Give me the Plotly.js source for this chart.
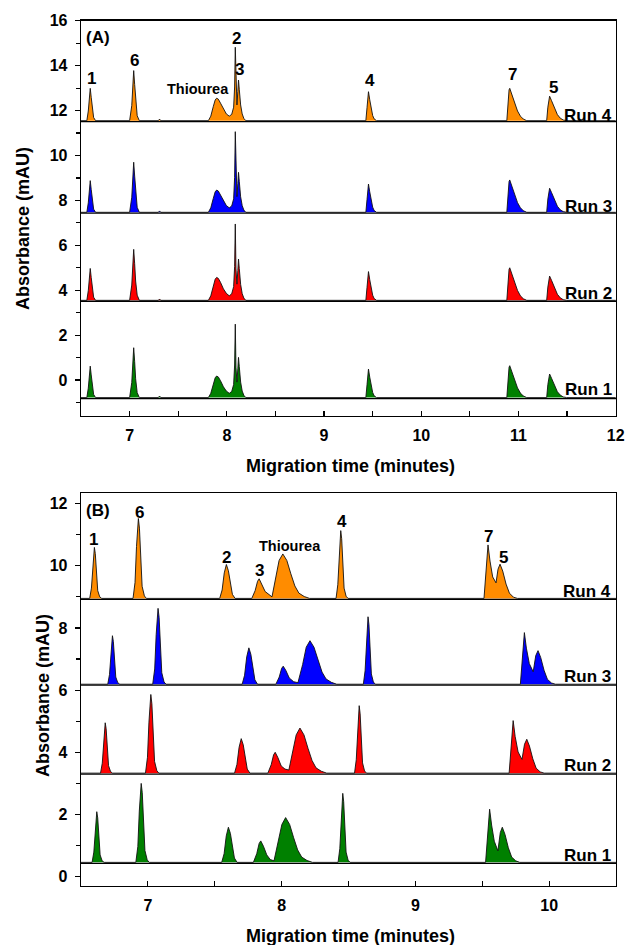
<!DOCTYPE html>
<html><head><meta charset="utf-8">
<script src="https://cdn.plot.ly/plotly-3.0.1.min.js"></script>
<style>html,body{margin:0;padding:0;background:#fff}#chart{width:626px;height:945px}</style>
</head><body><div id="chart"></div>
<script>
// ---------------- Panel A (shared migration-time grid, minutes) ----------------
const timeA = [6.50, 6.56, 6.575, 6.587, 6.595, 6.605, 6.615, 6.63, 6.65,
  7.00, 7.022, 7.034, 7.042, 7.052, 7.062, 7.078, 7.10,
  7.295, 7.308, 7.32,
  7.81, 7.835, 7.86, 7.88, 7.895, 7.912, 7.935, 7.965, 7.995, 8.025, 8.05, 8.07, 8.08, 8.087, 8.094, 8.104, 8.113, 8.12, 8.128, 8.142, 8.158, 8.175, 8.195,
  9.43, 9.442, 9.451, 9.457, 9.47, 9.485, 9.50, 9.515, 9.54,
  10.88, 10.892, 10.903, 10.91, 10.93, 10.96, 10.99, 11.02, 11.05, 11.085,
  11.29, 11.302, 11.313, 11.32, 11.34, 11.37, 11.40, 11.43, 11.46, 11.495,
  12.0];
const absA_run4 = [11.55, 11.55, 11.98, 12.73, 12.99, 12.59, 12.10, 11.69, 11.55,
  11.55, 12.22, 13.38, 13.78, 13.16, 12.40, 11.77, 11.55,
  11.55, 11.62, 11.55,
  11.55, 11.75, 12.17, 12.47, 12.55, 12.51, 12.33, 12.05, 11.85, 11.75, 11.83, 12.15, 13.05, 14.82, 12.95, 12.25, 12.85, 13.36, 12.95, 12.25, 11.85, 11.65, 11.55,
  11.55, 12.13, 12.71, 12.84, 12.48, 12.09, 11.78, 11.63, 11.55,
  11.55, 12.34, 12.92, 12.99, 12.76, 12.34, 11.98, 11.75, 11.62, 11.55,
  11.55, 12.15, 12.59, 12.64, 12.44, 12.10, 11.82, 11.66, 11.58, 11.55,
  11.55];
const absA_run3 = [7.47, 7.47, 7.89, 8.63, 8.88, 8.49, 8.01, 7.61, 7.47,
  7.47, 8.14, 9.30, 9.70, 9.08, 8.32, 7.69, 7.47,
  7.47, 7.53, 7.47,
  7.47, 7.67, 8.08, 8.38, 8.46, 8.42, 8.24, 7.97, 7.77, 7.67, 7.75, 8.07, 9.02, 11.06, 8.92, 8.17, 8.75, 9.25, 8.85, 8.16, 7.77, 7.57, 7.47,
  7.47, 8.04, 8.60, 8.73, 8.38, 8.00, 7.70, 7.55, 7.47,
  7.47, 8.26, 8.84, 8.91, 8.68, 8.26, 7.90, 7.67, 7.54, 7.47,
  7.47, 8.06, 8.49, 8.54, 8.35, 8.01, 7.74, 7.58, 7.50, 7.47,
  7.47];
const absA_run2 = [3.55, 3.55, 3.98, 4.71, 4.97, 4.57, 4.09, 3.69, 3.55,
  3.55, 4.23, 5.41, 5.82, 5.18, 4.41, 3.78, 3.55,
  3.55, 3.61, 3.55,
  3.55, 3.75, 4.18, 4.49, 4.57, 4.53, 4.35, 4.06, 3.86, 3.75, 3.84, 4.16, 5.05, 6.95, 4.95, 4.27, 4.87, 5.39, 4.97, 4.26, 3.85, 3.65, 3.55,
  3.55, 4.13, 4.70, 4.83, 4.47, 4.09, 3.78, 3.63, 3.55,
  3.55, 4.35, 4.93, 5.00, 4.77, 4.35, 3.99, 3.75, 3.62, 3.55,
  3.55, 4.14, 4.58, 4.63, 4.44, 4.09, 3.82, 3.66, 3.58, 3.55,
  3.55];
const absA_run1 = [-0.78, -0.78, -0.36, 0.37, 0.62, 0.23, -0.25, -0.64, -0.78,
  -0.78, -0.11, 1.04, 1.44, 0.82, 0.06, -0.56, -0.78,
  -0.78, -0.71, -0.78,
  -0.78, -0.59, -0.18, 0.10, 0.18, 0.14, -0.03, -0.30, -0.49, -0.59, -0.51, -0.20, 0.67, 2.49, 0.57, -0.09, 0.50, 1.01, 0.60, -0.09, -0.49, -0.68, -0.78,
  -0.78, -0.21, 0.36, 0.49, 0.13, -0.25, -0.55, -0.70, -0.78,
  -0.78, 0.00, 0.57, 0.64, 0.41, 0.00, -0.35, -0.58, -0.71, -0.78,
  -0.78, -0.20, 0.22, 0.27, 0.08, -0.25, -0.52, -0.67, -0.75, -0.78,
  -0.78];
const baseA = [-0.78, 3.55, 7.47, 11.55];      // run1..run4 baselines
const sepA  = [-0.83, 3.51, 7.43, 11.51];      // layer separators

// ---------------- Panel B ----------------
const timeB_run4 = [6.50,
  6.565, 6.578, 6.588, 6.595, 6.600, 6.607, 6.615, 6.625, 6.640, 6.655,
  6.889, 6.904, 6.915, 6.923, 6.929, 6.937, 6.946, 6.957, 6.974, 6.989,
  7.537, 7.555, 7.571, 7.587, 7.602, 7.617, 7.632, 7.652,
  7.777, 7.802, 7.820, 7.832, 7.852, 7.877, 7.928, 7.954, 7.981, 8.009, 8.039, 8.069, 8.099, 8.129, 8.169, 8.209,
  8.407, 8.420, 8.430, 8.437, 8.442, 8.449, 8.457, 8.467, 8.482, 8.497,
  9.513, 9.526, 9.536, 9.543, 9.558, 9.578, 9.603, 9.618, 9.633, 9.653, 9.678, 9.703, 9.733, 9.763,
  10.50];
const absB_run4 = [8.95,
  8.95, 9.28, 10.02, 10.51, 10.59, 10.39, 9.77, 9.20, 9.00, 8.95,
  8.95, 9.46, 10.62, 11.39, 11.52, 11.21, 10.24, 9.34, 9.03, 8.95,
  8.95, 9.22, 9.77, 10.04, 9.84, 9.41, 9.08, 8.95,
  8.95, 9.20, 9.50, 9.58, 9.42, 9.17, 9.00, 9.59, 10.17, 10.38, 10.17, 9.74, 9.35, 9.12, 9.01, 8.95,
  8.95, 9.39, 10.37, 11.02, 11.13, 10.87, 10.04, 9.28, 9.02, 8.95,
  8.95, 9.72, 10.50, 10.67, 10.15, 9.64, 9.45, 9.89, 10.05, 9.83, 9.41, 9.12, 8.99, 8.95,
  8.95];
const timeB_run3 = [6.50,
  6.700, 6.713, 6.723, 6.730, 6.735, 6.742, 6.750, 6.760, 6.775, 6.790,
  7.036, 7.051, 7.062, 7.070, 7.076, 7.084, 7.093, 7.104, 7.121, 7.136,
  7.705, 7.723, 7.739, 7.755, 7.770, 7.785, 7.800, 7.820,
  7.957, 7.982, 8.000, 8.012, 8.032, 8.057, 8.090, 8.122, 8.157, 8.184, 8.212, 8.242, 8.272, 8.302, 8.332, 8.372, 8.412,
  8.611, 8.624, 8.634, 8.641, 8.646, 8.653, 8.661, 8.671, 8.686, 8.701,
  9.785, 9.798, 9.808, 9.815, 9.830, 9.852, 9.881, 9.900, 9.917, 9.937, 9.962, 9.987, 10.017, 10.047,
  10.50];
const absB_run3 = [6.19,
  6.19, 6.50, 7.20, 7.67, 7.75, 7.56, 6.97, 6.42, 6.24, 6.19,
  6.19, 6.68, 7.78, 8.51, 8.63, 8.34, 7.41, 6.56, 6.26, 6.19,
  6.19, 6.48, 7.07, 7.36, 7.15, 6.68, 6.33, 6.19,
  6.19, 6.42, 6.70, 6.77, 6.63, 6.39, 6.27, 6.24, 6.82, 7.38, 7.59, 7.38, 6.96, 6.58, 6.36, 6.25, 6.19,
  6.19, 6.62, 7.60, 8.25, 8.36, 8.10, 7.28, 6.52, 6.26, 6.19,
  6.19, 6.94, 7.68, 7.85, 7.35, 6.85, 6.59, 7.11, 7.27, 7.05, 6.64, 6.35, 6.23, 6.19,
  6.19];
const timeB_run2 = [6.50,
  6.646, 6.659, 6.669, 6.676, 6.681, 6.688, 6.696, 6.706, 6.721, 6.736,
  6.982, 6.997, 7.008, 7.016, 7.022, 7.030, 7.039, 7.050, 7.067, 7.082,
  7.648, 7.666, 7.682, 7.698, 7.713, 7.728, 7.743, 7.763,
  7.897, 7.922, 7.940, 7.952, 7.972, 7.997, 8.025, 8.054, 8.082, 8.109, 8.137, 8.167, 8.197, 8.227, 8.257, 8.297, 8.337,
  8.545, 8.558, 8.568, 8.575, 8.580, 8.587, 8.595, 8.605, 8.620, 8.635,
  9.701, 9.714, 9.724, 9.731, 9.746, 9.768, 9.797, 9.816, 9.833, 9.853, 9.878, 9.903, 9.933, 9.963,
  10.50];
const absB_run2 = [3.33,
  3.33, 3.65, 4.38, 4.87, 4.95, 4.76, 4.14, 3.57, 3.38, 3.33,
  3.33, 3.84, 4.97, 5.73, 5.86, 5.56, 4.60, 3.71, 3.41, 3.33,
  3.33, 3.61, 4.16, 4.44, 4.24, 3.80, 3.46, 3.33,
  3.33, 3.60, 3.92, 4.00, 3.83, 3.56, 3.46, 3.43, 3.98, 4.56, 4.78, 4.56, 4.13, 3.74, 3.50, 3.39, 3.33,
  3.33, 3.76, 4.74, 5.39, 5.50, 5.24, 4.42, 3.66, 3.40, 3.33,
  3.33, 4.09, 4.85, 5.02, 4.51, 4.01, 3.77, 4.26, 4.42, 4.20, 3.79, 3.49, 3.37, 3.33,
  3.33];
const timeB_run1 = [6.50,
  6.583, 6.596, 6.606, 6.613, 6.618, 6.625, 6.633, 6.643, 6.658, 6.673,
  6.910, 6.925, 6.936, 6.944, 6.950, 6.958, 6.967, 6.978, 6.995, 7.010,
  7.552, 7.570, 7.586, 7.602, 7.617, 7.632, 7.647, 7.667,
  7.789, 7.814, 7.832, 7.844, 7.864, 7.889, 7.915, 7.943, 7.975, 8.002, 8.030, 8.060, 8.090, 8.120, 8.150, 8.190, 8.230,
  8.422, 8.435, 8.445, 8.452, 8.457, 8.464, 8.472, 8.482, 8.497, 8.512,
  9.525, 9.538, 9.548, 9.555, 9.570, 9.590, 9.617, 9.635, 9.650, 9.670, 9.695, 9.720, 9.750, 9.780,
  10.50];
const absB_run1 = [0.46,
  0.46, 0.79, 1.52, 2.01, 2.09, 1.89, 1.28, 0.70, 0.51, 0.46,
  0.46, 0.97, 2.11, 2.87, 3.00, 2.70, 1.73, 0.84, 0.54, 0.46,
  0.46, 0.74, 1.31, 1.59, 1.39, 0.93, 0.60, 0.46,
  0.46, 0.74, 1.07, 1.15, 0.98, 0.70, 0.55, 0.51, 1.11, 1.68, 1.90, 1.68, 1.25, 0.86, 0.63, 0.52, 0.46,
  0.46, 0.90, 1.90, 2.57, 2.68, 2.41, 1.57, 0.79, 0.53, 0.46,
  0.46, 1.23, 2.00, 2.17, 1.66, 1.14, 0.83, 1.42, 1.59, 1.36, 0.93, 0.63, 0.51, 0.46,
  0.46];
const baseB = [0.46, 3.33, 6.19, 8.95];
const sepB  = [0.43, 3.30, 6.16, 8.92];

// ---------------- labels ----------------
const runNames = ['Run 1', 'Run 2', 'Run 3', 'Run 4'];
const runColors = ['#008000', '#FF0000', '#0000FF', '#FF8C00'];
const peakTextA = ['1', '6', 'Thiourea', '2', '3', '4', '7', '5'];
const peakTextB = ['1', '6', '2', '3', 'Thiourea', '4', '7', '5'];
const panelTags = ['(A)', '(B)'];
const xTitle = 'Migration time (minutes)';
const yTitle = 'Absorbance (mAU)';

// label anchor positions (data coordinates)
const peakPosA = {x: [6.605, 7.046, 7.70, 8.10, 8.132, 9.47, 10.935, 11.355], y: [13.42, 14.25, 12.95, 15.22, 13.84, 13.32, 13.6, 13.04]};
const peakPosB = {x: [6.597, 6.935, 7.590, 7.835, 8.06, 8.451, 9.549, 9.657], y: [10.83, 11.72, 10.27, 9.86, 10.63, 11.42, 10.93, 10.26]};
const runLabelA = {x: 11.98, y: [-0.41, 3.86, 7.72, 11.80]};
const runLabelB = {x: 10.475, y: [0.67, 3.57, 6.45, 9.16]};

const FONT = 'Liberation Sans, Arial, sans-serif';
const traces = [];
function addRun(x, y, base, color, xa, ya) {
  traces.push({x: [x[0], x[x.length - 1]], y: [base, base], xaxis: xa, yaxis: ya,
    mode: 'lines', line: {width: 0, color: 'rgba(0,0,0,0)'}, hoverinfo: 'skip', showlegend: false});
  traces.push({x: x, y: y, xaxis: xa, yaxis: ya, mode: 'lines', fill: 'tonexty',
    fillcolor: color, line: {color: '#111', width: 0.9}, hoverinfo: 'skip', showlegend: false});
}
const runsA = [absA_run1, absA_run2, absA_run3, absA_run4];
runsA.forEach((r, i) => addRun(timeA, r, baseA[i], runColors[i], 'x', 'y'));
const runsB = [[timeB_run1, absB_run1], [timeB_run2, absB_run2], [timeB_run3, absB_run3], [timeB_run4, absB_run4]];
runsB.forEach((r, i) => addRun(r[0], r[1], baseB[i], runColors[i], 'x2', 'y2'));

const shapes = [];
sepA.forEach(s => shapes.push({type: 'line', xref: 'x domain', yref: 'y', x0: 0, x1: 1, y0: s, y1: s, line: {color: '#000', width: 1.3}}));
sepB.forEach(s => shapes.push({type: 'line', xref: 'x2 domain', yref: 'y2', x0: 0, x1: 1, y0: s, y1: s, line: {color: '#000', width: 1.3}}));

const ann = [];
const bold = (size) => ({family: FONT, size: size, color: '#000', weight: 'bold'});
peakTextA.forEach((t, i) => ann.push({xref: 'x', yref: 'y', x: peakPosA.x[i], y: peakPosA.y[i], text: t, showarrow: false,
  font: bold(t === 'Thiourea' ? 14.5 : 17), xanchor: 'center', yanchor: 'middle'}));
peakTextB.forEach((t, i) => ann.push({xref: 'x2', yref: 'y2', x: peakPosB.x[i], y: peakPosB.y[i], text: t, showarrow: false,
  font: bold(t === 'Thiourea' ? 14.5 : 17), xanchor: 'center', yanchor: 'middle'}));
runNames.forEach((t, i) => {
  ann.push({xref: 'x', yref: 'y', x: runLabelA.x, y: runLabelA.y[i], text: t, showarrow: false, font: bold(17), xanchor: 'right', yanchor: 'middle'});
  ann.push({xref: 'x2', yref: 'y2', x: runLabelB.x, y: runLabelB.y[i], text: t, showarrow: false, font: bold(17), xanchor: 'right', yanchor: 'middle'});
});
ann.push({xref: 'x domain', yref: 'y domain', x: 0.006, y: 0.985, text: panelTags[0], showarrow: false, font: bold(17), xanchor: 'left', yanchor: 'top'});
ann.push({xref: 'x2 domain', yref: 'y2 domain', x: 0.006, y: 0.985, text: panelTags[1], showarrow: false, font: bold(17), xanchor: 'left', yanchor: 'top'});
// axis titles
ann.push({xref: 'paper', yref: 'paper', x: 0.503, y: 1 - 466 / 945, text: xTitle, showarrow: false, font: bold(18), xanchor: 'center', yanchor: 'middle'});
ann.push({xref: 'paper', yref: 'paper', x: 0.503, y: 1 - 936 / 945, text: xTitle, showarrow: false, font: bold(18), xanchor: 'center', yanchor: 'middle'});
ann.push({xref: 'paper', yref: 'paper', x: (23 - 81) / 535, y: 1 - 229 / 945, text: yTitle, textangle: -90, showarrow: false, font: bold(18), xanchor: 'center', yanchor: 'middle'});
ann.push({xref: 'paper', yref: 'paper', x: (43 - 81) / 535, y: 1 - 696 / 945, text: yTitle, textangle: -90, showarrow: false, font: bold(18), xanchor: 'center', yanchor: 'middle'});

const xCommon = {tick0: 0, dtick: 1, ticks: 'inside', ticklen: 5, tickwidth: 1.2, tickcolor: '#000',
  showline: true, mirror: true, linecolor: '#000', linewidth: 1.3, showgrid: false, zeroline: false,
  tickfont: bold(16), ticklabelstandoff: 4,
  minor: {dtick: 0.5, ticks: 'inside', ticklen: 5, tickwidth: 1.2, tickcolor: '#000', showgrid: false}};
const yCommon = {tick0: 0, dtick: 2, ticks: 'outside', ticklen: 5, tickwidth: 1.2, tickcolor: '#000',
  showline: true, mirror: true, linecolor: '#000', linewidth: 1.3, showgrid: false, zeroline: false,
  tickfont: bold(16), ticklabelstandoff: 4,
  minor: {dtick: 1, ticks: 'outside', ticklen: 4, tickwidth: 1.2, tickcolor: '#000', showgrid: false}};

const layout = {
  width: 626, height: 945, margin: {l: 81, r: 10, t: 0, b: 0},
  paper_bgcolor: '#fff', plot_bgcolor: '#fff', showlegend: false,
  font: {family: FONT, color: '#000'},
  xaxis: Object.assign({}, xCommon, {domain: [0, 1], anchor: 'y', range: [6.5, 12.003]}),
  yaxis: Object.assign({}, yCommon, {domain: [1 - 416 / 945, 1 - 20.5 / 945], anchor: 'x', range: [-1.60, 16.01]}),
  xaxis2: Object.assign({}, xCommon, {domain: [0, 1], anchor: 'y2', range: [6.5, 10.5]}),
  yaxis2: Object.assign({}, yCommon, {domain: [1 - 886 / 945, 1 - 493 / 945], anchor: 'x2', range: [-0.30, 12.34]}),
  shapes: shapes, annotations: ann
};
Plotly.newPlot('chart', traces, layout, {displayModeBar: false, staticPlot: true});
</script></body></html>
